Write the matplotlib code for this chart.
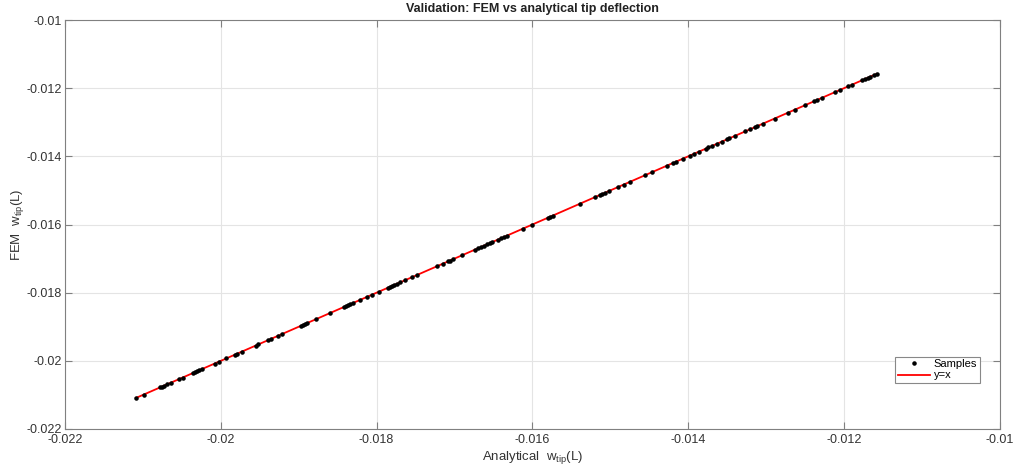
import matplotlib.pyplot as plt

plt.rcParams['font.family'] = ['Liberation Sans', 'DejaVu Sans']
plt.rcParams['mathtext.default'] = 'regular'

# analytical tip deflection of each sample
w_analytical = [
    -0.02109, -0.02099, -0.02078, -0.02076, -0.02073, -0.02069, -0.02064,
    -0.02054, -0.02049, -0.02036, -0.02033, -0.02031, -0.02028, -0.02024,
    -0.02008, -0.02002, -0.01993, -0.01982, -0.01979, -0.01973, -0.01955,
    -0.01952, -0.01940, -0.01936, -0.01927, -0.01922, -0.01897, -0.01894,
    -0.01892, -0.01889, -0.01878, -0.01860, -0.01842, -0.01839, -0.01837,
    -0.01834, -0.01830, -0.01821, -0.01812, -0.01806, -0.01797, -0.01786,
    -0.01783, -0.01780, -0.01778, -0.01774, -0.01770, -0.01764, -0.01755,
    -0.01748, -0.01723, -0.01715, -0.01708, -0.01706, -0.01702, -0.01690,
    -0.01674, -0.01670, -0.01666, -0.01662, -0.01658, -0.01655, -0.01652,
    -0.01644, -0.01640, -0.01637, -0.01633, -0.01612, -0.01601, -0.01580,
    -0.01578, -0.01574, -0.01539, -0.01520, -0.01513, -0.01510, -0.01507,
    -0.01501, -0.01490, -0.01483, -0.01475, -0.01456, -0.01447, -0.01427,
    -0.01420, -0.01416, -0.01407, -0.01398, -0.01393, -0.01386, -0.01377,
    -0.01374, -0.01370, -0.01363, -0.01357, -0.01350, -0.01347, -0.01340,
    -0.01327, -0.01321, -0.01314, -0.01311, -0.01304, -0.01289, -0.01272,
    -0.01263, -0.01250, -0.01239, -0.01234, -0.01228, -0.01211, -0.01205,
    -0.01195, -0.01190, -0.01177, -0.01173, -0.01169, -0.01166, -0.01162,
    -0.01158,
]
# FEM results sit on y = x at this scale
w_fem = list(w_analytical)

ref_line = [min(w_analytical), max(w_analytical)]

ticks = [-0.022, -0.02, -0.018, -0.016, -0.014, -0.012, -0.01]
tick_labels = ['-0.022', '-0.02', '-0.018', '-0.016', '-0.014', '-0.012', '-0.01']

fig = plt.figure(figsize=(10.16, 4.66), dpi=100)
ax = fig.add_axes([0.064, 0.0794, 0.920, 0.8776])

ax.plot(w_analytical, w_fem, 'k.', markersize=4.5, label='Samples', zorder=3)
ax.plot(ref_line, ref_line, color='#ff0000', lw=1.3, label='y=x', zorder=2)

ax.set_xlim(-0.022, -0.01)
ax.set_ylim(-0.022, -0.01)
ax.set_xticks(ticks)
ax.set_yticks(ticks)
ax.set_xticklabels(tick_labels)
ax.set_yticklabels(tick_labels)

ax.grid(True, color='#e4e4e4', lw=0.8)
ax.set_axisbelow(True)
ax.tick_params(direction='in', top=True, right=True, length=5, width=0.8,
               colors='#808080', labelcolor='#333333', labelsize=9)
ax.tick_params(axis='y', pad=2.5)
for s in ax.spines.values():
    s.set_color('#808080')
    s.set_linewidth(0.8)

ax.set_title('Validation: FEM vs analytical tip deflection', fontsize=9,
             fontweight='bold', color='#222222', pad=6)
ax.set_xlabel('Analytical  w$_{tip}$(L)', fontsize=9.5, color='#333333', labelpad=2)
ax.set_ylabel('FEM  w$_{tip}$(L)', fontsize=9.5, color='#333333', labelpad=0)

leg = ax.legend(loc='lower right', bbox_to_anchor=(0.979, 0.112), borderaxespad=0,
                fontsize=8, fancybox=False, framealpha=1, edgecolor='#888888',
                handlelength=2.9, borderpad=0.25, labelspacing=0.1,
                handletextpad=0.35)
leg.get_frame().set_linewidth(0.8)

fig.savefig('out.png', dpi=100)
